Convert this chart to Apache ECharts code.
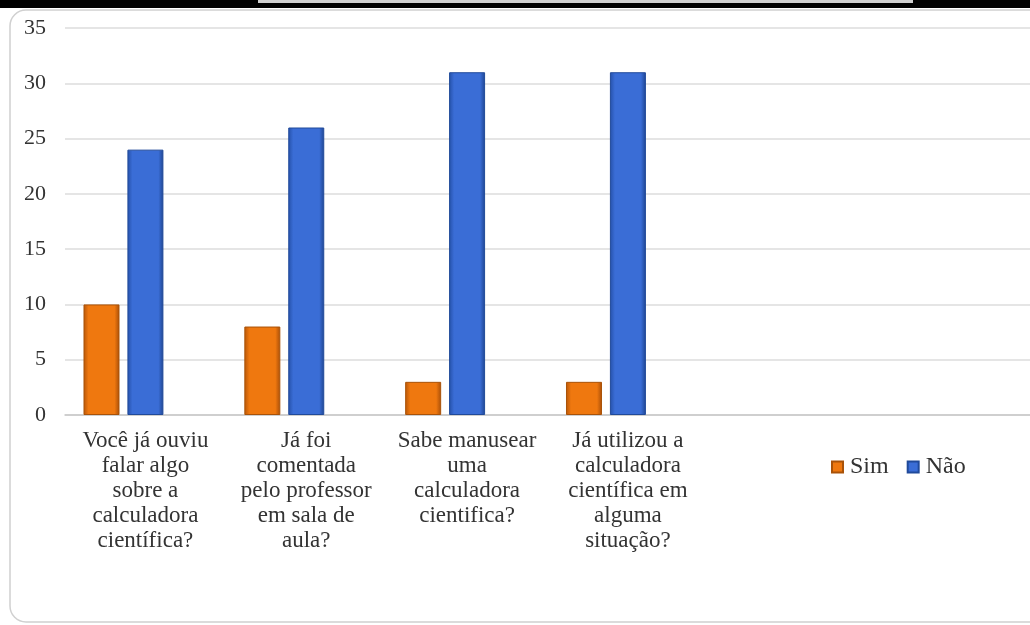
<!DOCTYPE html>
<html>
<head>
<meta charset="utf-8">
<script src="https://cdn.jsdelivr.net/npm/echarts@6/dist/echarts.min.js"></script>
<style>
html,body{margin:0;padding:0;background:#fff;}
#c{width:1030px;height:625px;}
</style>
</head>
<body>
<div id="c"></div>
<script>
const categories = [
  "Você já ouviu\nfalar algo\nsobre a\ncalculadora\ncientífica?",
  "Já foi\ncomentada\npelo professor\nem sala de\naula?",
  "Sabe manusear\numa\ncalculadora\ncientifica?",
  "Já utilizou a\ncalculadora\ncientífica em\nalguma\nsituação?",
  "",
  ""
];
const simValues = [10, 8, 3, 3];
const naoValues = [24, 26, 31, 31];
const emptyValues = [];
const yTicks = { min: 0, max: 35, interval: 5 };

const chart = echarts.init(document.getElementById('c'));
const serif = "'Liberation Serif', 'DejaVu Serif', serif";
function grad(edge, mid, edge2) {
  return new echarts.graphic.LinearGradient(0, 0, 1, 0, [
    {offset: 0, color: edge},
    {offset: 0.14, color: mid},
    {offset: 0.86, color: mid},
    {offset: 1, color: edge2}
  ]);
}
chart.setOption({
  backgroundColor: '#ffffff',
  animation: false,
  graphic: [
    {type: 'rect', shape: {x: 10, y: 10, width: 1040, height: 612, r: 16}, style: {fill: 'none', stroke: '#d0d0d0', lineWidth: 1.5}, z: -10},
    {type: 'rect', shape: {x: 0, y: 0, width: 1030, height: 8}, style: {fill: '#000000'}, z: 100},
    {type: 'rect', shape: {x: 258, y: 0, width: 655, height: 3}, style: {fill: '#cfcfcf'}, z: 101}
  ],
  grid: {left: 65, right: 0, top: 28, bottom: 210, containLabel: false},
  legend: {
    data: ['Sim', 'Não'],
    left: 826, top: 450,
    itemWidth: 11, itemHeight: 11, itemGap: 18,
    icon: 'rect',
    textStyle: {fontFamily: serif, fontSize: 24, color: '#333333', padding: [0, 0, 0, 2]}
  },
  xAxis: {
    type: 'category',
    data: categories,
    axisLine: {lineStyle: {color: '#c8c8c8', width: 1.5}},
    axisTick: {show: false},
    axisLabel: {interval: 0, margin: 13, fontFamily: serif, fontSize: 23, lineHeight: 25, color: '#333333', align: 'center'}
  },
  yAxis: {
    type: 'value',
    min: yTicks.min, max: yTicks.max, interval: yTicks.interval,
    axisLine: {show: false},
    axisTick: {show: false},
    splitLine: {lineStyle: {color: '#dddddd', width: 1.5}},
    axisLabel: {margin: 19, fontFamily: serif, fontSize: 22, color: '#333333'}
  },
  series: [
    {name: 'Sim', type: 'bar', data: simValues, barWidth: 36, barGap: '22%',
     itemStyle: {color: grad('#b85608', '#ef780f', '#a84e08'), borderColor: '#a95208', borderWidth: 1}},
    {name: 'Não', type: 'bar', data: naoValues, barWidth: 36, barGap: '22%',
     itemStyle: {color: grad('#2550a8', '#3a6dd6', '#1f4590'), borderColor: '#204a9a', borderWidth: 1}},
    {name: '', type: 'bar', data: emptyValues, barWidth: 36, barGap: '22%'}
  ]
});
</script>
</body>
</html>
